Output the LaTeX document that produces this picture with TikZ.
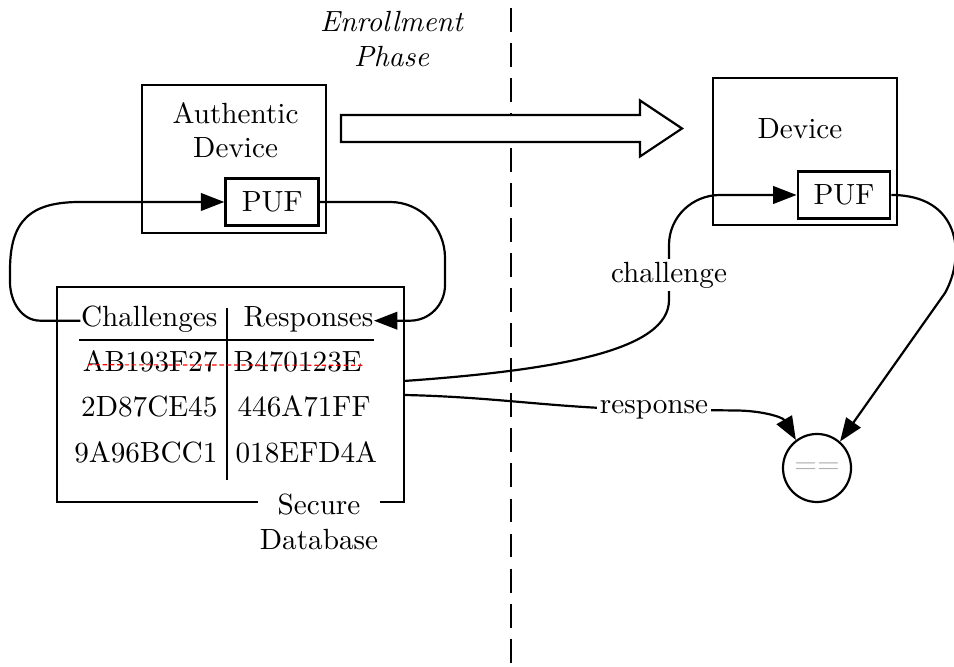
\documentclass[tikz,border=0pt]{standalone}
\usetikzlibrary{arrows.meta}
\begin{document}
\begin{tikzpicture}[x=0.3425pt,y=0.3425pt,
  box/.style={draw, line width=0.7pt, inner sep=0pt},
  pufbox/.style={draw, line width=1pt, inner sep=0pt},
  txt/.style={inner sep=0pt, anchor=base},
  wire/.style={line width=0.7pt},
  conn/.style={line width=0.75pt, -{Triangle[length=8pt,width=6pt]}},
  lbl/.style={fill=white, inner sep=1pt},
]
\useasboundingbox (0,0) rectangle (954,667);

% phase boundary
\coordinate (divtop) at (511,659);
\coordinate (divbot) at (511,0);
\draw[line width=0.85pt, dash pattern=on 8.2pt off 3.8pt] (divtop) -- (divbot);
\node[txt, font=\itshape] (phA) at (391.5,635) {Enrollment};
\node[txt, font=\itshape] (phB) at (391.5,600) {Phase};

% authentic device
\node[box, minimum width=63.2pt, minimum height=50.7pt] (auth) at (234.1,508) {};
\node[txt] (authA) at (235.6,543.7) {Authentic};
\node[txt] (authB) at (235.6,509) {Device};
\node[pufbox, minimum width=31.8pt, minimum height=16.4pt] (puf1) at (272.2,465) {PUF};

% enrollment arrow
\draw[line width=0.75pt, fill=white] (341,525) -- (640,525) -- (640,510.5) -- (682,538.5)
  -- (640,566.5) -- (640,552) -- (341,552) -- cycle;

% field device
\node[box, minimum width=63pt, minimum height=50.3pt] (dev) at (805,515.5) {};
\node[txt] (devT) at (800,528) {Device};
\node[pufbox, minimum width=31.5pt, minimum height=15.8pt] (puf2) at (844,472) {PUF};

% challenge/response database
\node[box, minimum width=118.9pt, minimum height=73.6pt] (db) at (230.35,272.5) {};
\node[txt, anchor=base east] (hc) at (218,340) {Challenges};
\node[txt, anchor=base west] (hr) at (243,340) {Responses};
\draw[wire] (79,327) -- (374,327);
\draw[wire] (227,359) -- (227,187);
\node[txt, anchor=base east] (c1) at (218,295) {AB193F27};
\node[txt, anchor=base west] (r1) at (233,295) {B470123E};
\node[txt, anchor=base east] (c2) at (218,250) {2D87CE45};
\node[txt, anchor=base west] (r2) at (237,250) {446A71FF};
\node[txt, anchor=base east] (c3) at (218,204) {9A96BCC1};
\node[txt, anchor=base west] (r3) at (235,204) {018EFD4A};
\draw[red, line width=0.4pt, dash pattern=on 1.5pt off 1pt]
  ([xshift=2pt,yshift=-1pt]c1.west) -- ([yshift=-1pt]r1.east);
\node[fill=white, inner xsep=0.7pt, inner ysep=1pt, align=center, anchor=north] (dbl)
  at (319,177) {Secure\\Database};

% comparator
\node[draw, circle, line width=0.75pt, minimum size=23.3pt, inner sep=0pt, text=gray!60] (cmp)
  at (817,199) {==};

% enrollment loop
\draw[conn] (hc.mid west) -- ++(-40,0) to[out=180,in=-90] (10,385) -- (10,397)
  to[out=90,in=180,looseness=1.3] (80,465) -- (puf1.west);
\draw[conn] (puf1.east) -- (390,465) to[out=0,in=90] (445,409) -- (445,382)
  to[out=-90,in=0] (410,346.3) -- (hr.mid east);

% authentication
\draw[conn] (404,286) .. controls (560,297) and (669,317) .. (669,367)
  -- (669,422) to[out=90,in=180] (720,472) -- (puf2.west);
\node[lbl] (chl) at (669,392) {challenge};
\draw[conn] (404,272) .. controls (500,270) and (560,258) .. (654,257.5)
  node[lbl] (rsl) {response} -- (735,256.5) to[out=0,in=120] (cmp.127);
\draw[conn] (puf2.east) .. controls (960,472) and (966,412) .. (945,374) -- (cmp.49);
\end{tikzpicture}
\end{document}
